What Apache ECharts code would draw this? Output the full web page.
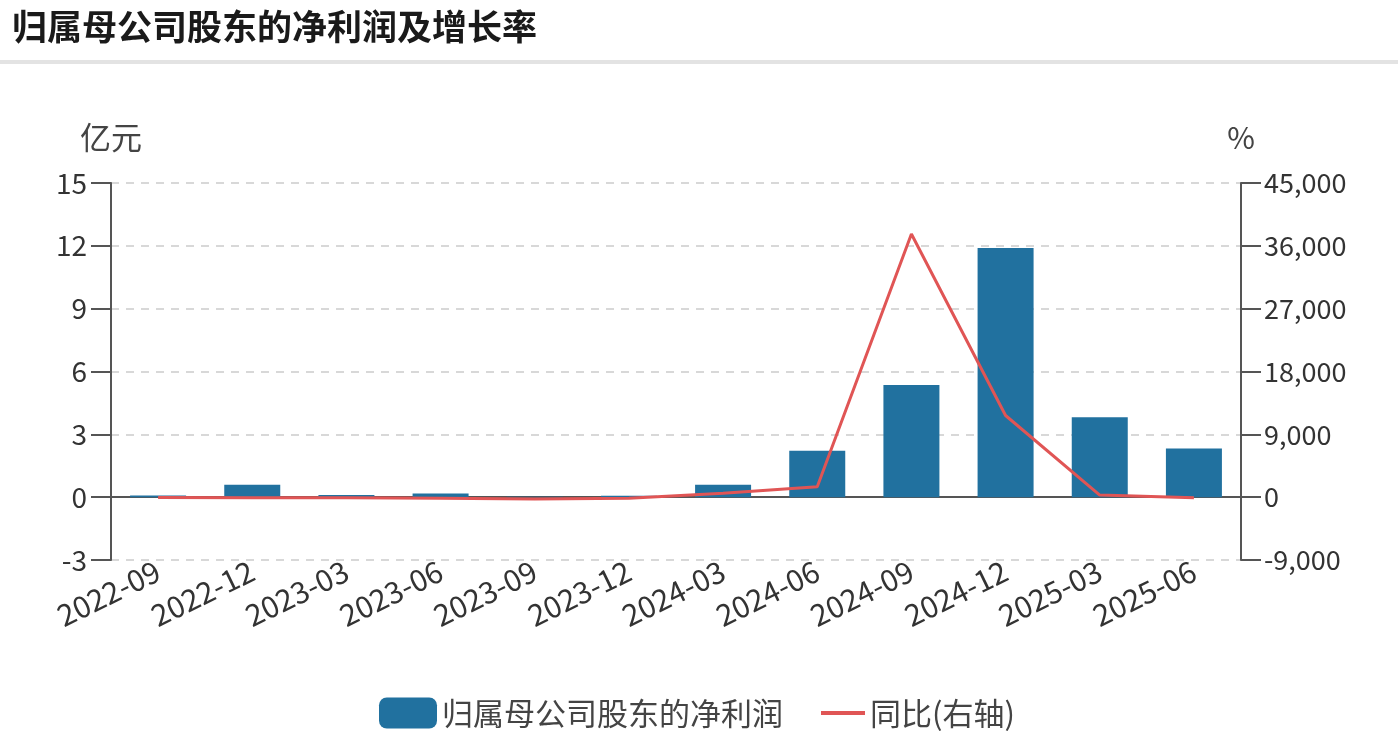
<!DOCTYPE html>
<html>
<head>
<meta charset="utf-8">
<script src="https://cdn.jsdelivr.net/npm/echarts@6/dist/echarts.min.js"></script>
<style>
html,body{margin:0;padding:0;background:#fff;}
#chart{width:1398px;height:737px;}
</style>
</head>
<body>
<div id="chart"></div>
<script>
const categories = ['2022-09','2022-12','2023-03','2023-06','2023-09','2023-12','2024-03','2024-06','2024-09','2024-12','2025-03','2025-06'];
const netProfit = [0.08, 0.59, 0.10, 0.18, 0.02, 0.07, 0.59, 2.22, 5.35, 11.9, 3.82, 2.32];
const yoyGrowth = [-50, -80, -100, -150, -250, -150, 550, 1500, 37700, 11700, 300, -80];
const leftTicks = {min: -3, max: 15, interval: 3};
const rightTicks = {min: -9000, max: 45000, interval: 9000};
const titleText = '归属母公司股东的净利润及增长率';
const seriesNames = ['归属母公司股东的净利润', '同比(右轴)'];

const FONT = '"Noto Sans CJK SC", "Noto Sans", sans-serif';
const chart = echarts.init(document.getElementById('chart'));
const axisLineStyle = {color: '#555', width: 2};
const labelStyle = {color: '#333', fontSize: 28, fontFamily: FONT};
const legendText = {color: '#444', fontSize: 31, fontFamily: FONT, lineHeight: 32};

chart.setOption({
  animation: false,
  textStyle: {fontFamily: FONT},
  graphic: [
    {type: 'text', left: 12, top: 9, style: {text: titleText, font: 'bold 35px ' + FONT, fill: '#1a1a1a'}},
    {type: 'rect', left: 0, top: 60, shape: {width: 1398, height: 4}, style: {fill: '#e3e3e3'}}
  ],
  legend: [
    {
      left: 374, top: 692,
      itemWidth: 58, itemHeight: 31,
      textStyle: legendText,
      data: [{name: seriesNames[0], icon: 'roundRect'}]
    },
    {
      left: 816, top: 692,
      itemWidth: 44, itemHeight: 4,
      textStyle: legendText,
      data: [{name: seriesNames[1], icon: 'rect'}]
    }
  ],
  grid: {left: 111, right: 157, top: 183, bottom: 177},
  xAxis: {
    type: 'category',
    data: categories,
    axisLine: {lineStyle: axisLineStyle},
    axisTick: {alignWithLabel: true, length: 22, lineStyle: axisLineStyle},
    axisLabel: Object.assign({rotate: 26, margin: 9, interval: 0}, labelStyle, {fontSize: 30})
  },
  yAxis: [
    {
      type: 'value', min: leftTicks.min, max: leftTicks.max, interval: leftTicks.interval,
      name: '亿元', nameLocation: 'end', nameGap: 30,
      nameTextStyle: {color: '#444', fontSize: 31, fontFamily: FONT},
      axisLine: {show: true, lineStyle: axisLineStyle},
      axisTick: {show: true, length: 20, lineStyle: axisLineStyle},
      axisLabel: Object.assign({margin: 24}, labelStyle),
      splitLine: {show: true, lineStyle: {color: '#d8d8d8', type: [8, 7], width: 2}}
    },
    {
      type: 'value', min: rightTicks.min, max: rightTicks.max, interval: rightTicks.interval,
      name: '%', nameLocation: 'end', nameGap: 30,
      nameTextStyle: {color: '#444', fontSize: 30, fontFamily: FONT},
      position: 'right',
      axisLine: {show: true, lineStyle: axisLineStyle},
      axisTick: {show: true, length: 20, lineStyle: axisLineStyle},
      axisLabel: Object.assign({margin: 23, formatter: v => v.toLocaleString('en-US')}, labelStyle, {fontSize: 27}),
      splitLine: {show: false}
    }
  ],
  series: [
    {
      name: seriesNames[0], type: 'bar', data: netProfit, barWidth: 56,
      itemStyle: {color: '#21719f'}
    },
    {
      name: seriesNames[1], type: 'line', yAxisIndex: 1, data: yoyGrowth,
      symbol: 'none', lineStyle: {color: '#e05555', width: 3}, itemStyle: {color: '#e05555'}
    }
  ]
});
</script>
</body>
</html>
